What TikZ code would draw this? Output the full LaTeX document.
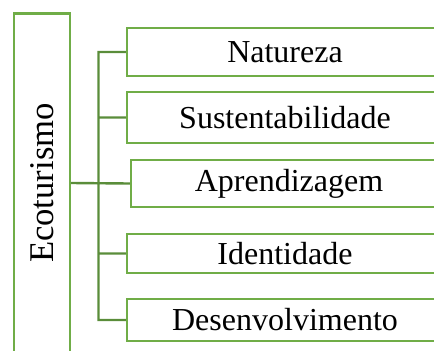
\documentclass[tikz,border=0pt]{standalone}
\usepackage{fontspec}
\setmainfont{Liberation Serif}
\usepackage{xcolor}
\usetikzlibrary{positioning, calc}

\definecolor{boxgreen}{RGB}{112,173,71}
\definecolor{linkgreen}{RGB}{90,141,58}

\begin{document}
\begin{tikzpicture}[
    x=0.75pt,
    y=-0.75pt,
    topic/.style={draw=boxgreen, line width=1.8pt, minimum width=237pt, inner sep=0pt, font=\fontsize{24}{28}\selectfont},
    ecobox/.style={draw=boxgreen, line width=1.8pt, rotate=90, minimum width=254pt, minimum height=42pt, inner sep=0pt, font=\fontsize{26}{30}\selectfont},
    link/.style={draw=linkgreen, line width=1.8pt}
]
    \clip (0,0) rectangle (434,350);

    % Main box on the left, text reads upwards (its south side faces right).
    \node[ecobox] (eco) at (42,183) {Ecoturismo};

    % The five topics, cut off by the right edge.
    \node[topic, minimum height=36pt] (nat) at (285,52) {Natureza};
    \node[topic, minimum height=38pt] (sus) at (285,117.5) {Sustentabilidade};
    \node[topic, minimum height=35pt] (apr) at (289,183.5) {Aprendizagem};
    \node[topic, minimum height=29pt] (ide) at (285,253.5) {Identidade};
    \node[topic, minimum height=31.5pt] (des) at (285,320) {Desenvolvimento};

    \coordinate (trunk) at (98.5,183);

    \path[link]
        (eco.south) -- (apr.west)
        (nat.west) -| (trunk |- des.west) -- (des.west)
        (trunk |- sus.west) -- (sus.west)
        (trunk |- ide.west) -- (ide.west);
\end{tikzpicture}
\end{document}
